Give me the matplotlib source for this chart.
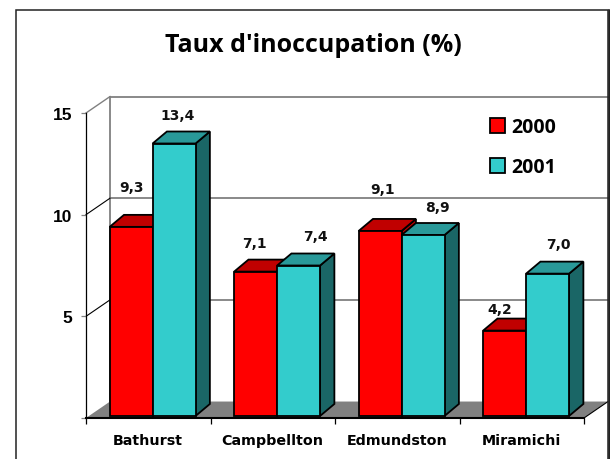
import matplotlib
matplotlib.use("Agg")
import matplotlib.pyplot as plt
from matplotlib.lines import Line2D
from matplotlib.patches import Patch, Polygon

cities = ["Bathurst", "Campbellton", "Edmundston", "Miramichi"]
years = ["2000", "2001"]
values_2000 = [9.3, 7.1, 9.1, 4.2]
values_2001 = [13.4, 7.4, 8.9, 7.0]
y_ticks = [5, 10, 15]

RED = "#ff0000"
RED_TOP = "#c00000"
TEAL = "#33cccc"
TEAL_TOP = "#299999"
TEAL_SIDE = "#1a6666"
GRAY = "#808080"

W, H = 610, 460
BAR_W = 0.345
BAR_START = 0.19
BAR_BASE = 0.1
# oblique offsets, in data units
WALL_DX, WALL_DY = 0.193, 0.81
BAR_DX, BAR_DY = 0.115, 0.59

fig = plt.figure(figsize=(W / 100, H / 100), dpi=100, facecolor="white")
ax = fig.add_axes([86 / W, (H - 419) / H, 498 / W, 305 / H])
ax.set_xlim(0, 4)
ax.set_ylim(0, 15)


def poly(pts, color, edge="black", lw=1.3, z=3):
    ax.add_patch(Polygon(pts, closed=True, facecolor=color, edgecolor=edge,
                         linewidth=lw, zorder=z, clip_on=False, joinstyle="miter"))


def bar3d(x, v, front, top, side, z):
    y0, y1 = BAR_BASE, v + BAR_BASE
    x1 = x + BAR_W
    poly([(x1, y0), (x1 + BAR_DX, y0 + BAR_DY), (x1 + BAR_DX, y1 + BAR_DY), (x1, y1)], side, z=z)
    poly([(x, y1), (x + BAR_DX, y1 + BAR_DY), (x1 + BAR_DX, y1 + BAR_DY), (x1, y1)], top, z=z)
    poly([(x, y0), (x1, y0), (x1, y1), (x, y1)], front, z=z)


# back wall, side wall and floor
poly([(0, 0), (WALL_DX, WALL_DY), (4 + WALL_DX, WALL_DY), (4, 0)], GRAY, edge="none", z=1)
ax.plot([4, 4 + WALL_DX], [0, WALL_DY], color="black", lw=0.8, clip_on=False, zorder=1.5)
ax.plot([WALL_DX, WALL_DX], [WALL_DY, 15 + WALL_DY], color=GRAY, lw=1.3, clip_on=False, zorder=1)
for t in y_ticks:
    ax.plot([WALL_DX, 4 + WALL_DX], [t + WALL_DY, t + WALL_DY], color=GRAY, lw=1.3,
            clip_on=False, zorder=1)
    ax.plot([0, WALL_DX], [t, t + WALL_DY], color=GRAY if t == 15 else "black",
            lw=1.0 if t == 15 else 0.8, clip_on=False, zorder=1)

for i in range(len(cities)):
    x = i + BAR_START
    bar3d(x, values_2000[i], RED, RED_TOP, RED_TOP, 3 + i)
    bar3d(x + BAR_W, values_2001[i], TEAL, TEAL_TOP, TEAL_SIDE, 3.5 + i)

# data labels, nudged by hand like in the original (pixels)
nudge_2000 = [(0, 40), (-1, 29), (2.5, 42), (-5, 22)]
nudge_2001 = [(3.5, 29), (17, 29), (14, 28), (11, 30)]
for i in range(len(cities)):
    for v, off, n in ((values_2000[i], 0.5, nudge_2000[i]), (values_2001[i], 1.5, nudge_2001[i])):
        ax.annotate(f"{v:.1f}".replace(".", ","), (i + BAR_START + off * BAR_W, v + BAR_BASE),
                    xytext=(n[0] * 0.72, n[1] * 0.72), textcoords="offset points",
                    ha="center", va="center", fontsize=10, fontweight="bold",
                    family="DejaVu Sans", color="#111111", zorder=20)

# axes
for s in ("top", "right"):
    ax.spines[s].set_visible(False)
ax.spines["left"].set_linewidth(0.9)
ax.spines["bottom"].set_linewidth(1.5)
ax.spines["left"].set_zorder(2)
ax.spines["bottom"].set_zorder(2.5)
ax.patch.set_visible(False)

ax.set_yticks([0] + y_ticks, [""] + [str(t) for t in y_ticks],
              fontsize=12.5, fontweight="bold", family="Liberation Sans")
ax.tick_params(axis="y", length=3.6, width=0.9, color=GRAY, pad=6.5)
ax.set_xticks(range(5), [""] * 5)
ax.tick_params(axis="x", which="major", length=4.5, width=0.9)
ax.set_xticks([i + 0.5 for i in range(4)], cities, minor=True,
              fontsize=10.3, fontweight="bold", family="DejaVu Sans")
ax.tick_params(axis="x", which="minor", length=0, pad=10.5)

# legend
handles = [Patch(facecolor=RED, edgecolor="black", linewidth=1.3),
           Patch(facecolor=TEAL, edgecolor="black", linewidth=1.3)]
leg = ax.legend(handles, years, loc="upper left", bbox_to_anchor=(490 / W, (H - 118) / H),
                bbox_transform=fig.transFigure, frameon=False, borderpad=0, borderaxespad=0,
                handlelength=0.78, handleheight=0.78, handletextpad=0.3, labelspacing=1.05,
                prop={"family": "Open Sans", "weight": "bold", "size": 14})
leg.set_zorder(25)

fig.suptitle("Taux d'inoccupation (%)", x=313.5 / W, y=(H - 52) / H, va="baseline",
             fontsize=18, fontweight="bold", family="Open Sans")

# outer frame
fig.add_artist(Line2D([16 / W, 16 / W, 608 / W, 608 / W],
                      [0, (H - 11) / H, (H - 11) / H, 0],
                      color="#222222", lw=1.1, solid_joinstyle="miter"))
fig.add_artist(Line2D([608.5 / W, 608.5 / W], [0, (H - 11) / H], color="#222222", lw=1.8))

fig.savefig("out.png", dpi=100)
